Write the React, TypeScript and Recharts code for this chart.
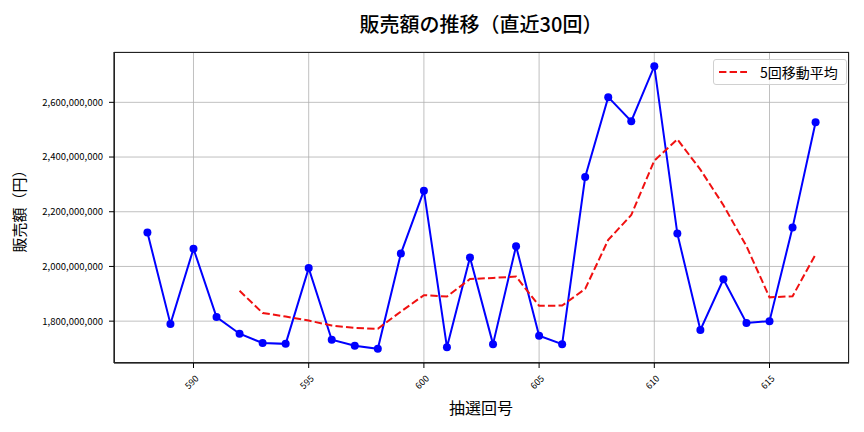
import React from 'react';
import {
  LineChart,
  Line,
  XAxis,
  YAxis,
  CartesianGrid,
} from 'recharts';

// 抽選回号
const draws = [
  588, 589, 590, 591, 592, 593, 594, 595, 596, 597,
  598, 599, 600, 601, 602, 603, 604, 605, 606, 607,
  608, 609, 610, 611, 612, 613, 614, 615, 616, 617,
];

// 販売額 (百万円単位で読み取り)
const salesMillions = [
  2124, 1790, 2065, 1815, 1754, 1720, 1717, 1994, 1732, 1710,
  1699, 2047, 2277, 1705, 2033, 1716, 2074, 1747, 1716, 2327,
  2619, 2531, 2732, 2120, 1768, 1953, 1793, 1800, 2142, 2527,
];

// 5回移動平均
const maMillions: (number | null)[] = [
  null, null, null, null, 1911, 1830, 1817, 1802, 1784, 1775,
  1772, 1835, 1895, 1890, 1954, 1958, 1963, 1856, 1857, 1918,
  2097, 2188, 2387, 2465, 2354, 2224, 2074, 1887, 1891, 2044,
];

const xTicks = [590, 595, 600, 605, 610, 615];
const yTicks = [1800000000, 2000000000, 2200000000, 2400000000, 2600000000];

const FONT = '"Noto Sans CJK JP", "Noto Sans", sans-serif';

const data = draws.map((d, i) => ({
  draw: d,
  sales: salesMillions[i] * 1000000,
  ma: maMillions[i] === null ? null : (maMillions[i] as number) * 1000000,
}));

const XTick = (props: any) => {
  const { x, y, payload } = props;
  return (
    <g transform={`translate(${x - 2},${y + 12})`}>
      <text
        transform="rotate(-45)"
        textAnchor="middle"
        dominantBaseline="central"
        fontSize={9}
        fontFamily={FONT}
        fill="#000"
      >
        {payload.value}
      </text>
    </g>
  );
};

const App: React.FC = () => {
  return (
    <div style={{ position: 'absolute', left: 0, top: 0, width: 864, height: 432, background: '#fff', fontFamily: FONT }}>
      <LineChart
        width={864}
        height={432}
        data={data}
        margin={{ top: 52, right: 15, bottom: 0, left: 0 }}
      >
        <CartesianGrid stroke="#b0b0b0" strokeWidth={0.8} />
        <XAxis
          dataKey="draw"
          type="number"
          domain={[586.55, 618.45]}
          ticks={xTicks}
          allowDataOverflow
          height={69}
          tickSize={5}
          tick={<XTick />}
          stroke="#000"
          tickLine={{ stroke: '#000' }}
        />
        <YAxis
          type="number"
          domain={[1647000000, 2784000000]}
          ticks={yTicks}
          allowDataOverflow
          width={114}
          tickSize={5}
          tickMargin={6}
          tickFormatter={(v: number) => v.toLocaleString('en-US')}
          tick={{ fontSize: 9.5, fill: '#000', fontFamily: FONT }}
          stroke="#000"
        />
        <Line
          dataKey="sales"
          stroke="#0000ff"
          strokeWidth={2}
          dot={{ r: 4, fill: '#0000ff', stroke: 'none' }}
          activeDot={false}
          isAnimationActive={false}
        />
        <Line
          dataKey="ma"
          stroke="#f01010"
          strokeWidth={2}
          strokeDasharray="7.4 3.2"
          dot={false}
          activeDot={false}
          connectNulls={false}
          isAnimationActive={false}
        />
      </LineChart>

      {/* 枠線 */}
      <div style={{ position: 'absolute', left: 114, top: 52, width: 735, height: 311, border: '1px solid #222', boxSizing: 'border-box', pointerEvents: 'none' }} />

      {/* タイトル */}
      <div style={{ position: 'absolute', left: 281, top: 14, width: 400, textAlign: 'center', fontSize: 20, lineHeight: '20px', fontWeight: 500, color: '#000' }}>
        販売額の推移（直近30回）
      </div>

      {/* X軸ラベル */}
      <div style={{ position: 'absolute', left: 381, top: 399, width: 200, textAlign: 'center', fontSize: 16, lineHeight: '16px', color: '#000' }}>
        抽選回号
      </div>

      {/* Y軸ラベル */}
      <div style={{ position: 'absolute', left: -82, top: 200, width: 200, textAlign: 'center', fontSize: 15, lineHeight: '15px', color: '#000', transform: 'rotate(-90deg)' }}>
        販売額（円）
      </div>

      {/* 凡例 */}
      <div style={{ position: 'absolute', left: 713, top: 59, width: 134, height: 26, border: '1px solid #d0d0d0', borderRadius: 3, boxSizing: 'border-box', background: 'rgba(255,255,255,0.8)', display: 'flex', alignItems: 'center' }}>
        <svg width={42} height={10} style={{ marginLeft: 4 }}>
          <line x1={1} y1={5} x2={29} y2={5} stroke="#f01010" strokeWidth={2} strokeDasharray="7.4 3.2" />
        </svg>
        <span style={{ fontSize: 14, lineHeight: '14px', color: '#000' }}>5回移動平均</span>
      </div>
    </div>
  );
};

export default App;
